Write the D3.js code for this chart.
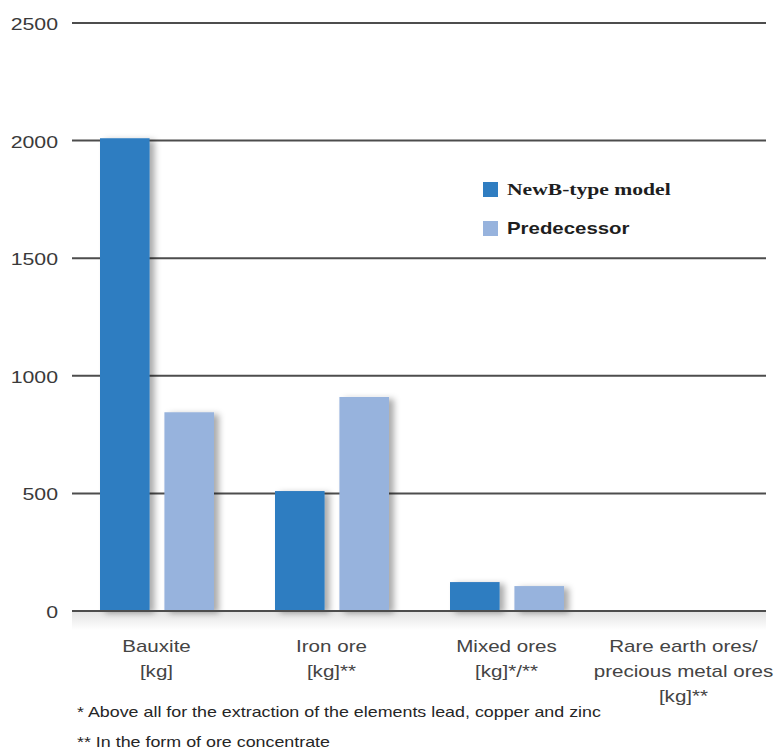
<!DOCTYPE html>
<html><head><meta charset="utf-8">
<script src="https://cdn.jsdelivr.net/npm/d3@7"></script>
<style>body{margin:0;background:#fff}svg{display:block}</style>
</head><body>
<svg id="c" width="779" height="753"></svg>
<script>
const categories = [["Bauxite","[kg]"],["Iron ore","[kg]**"],["Mixed ores","[kg]*/**"],["Rare earth ores/","precious metal ores","[kg]**"]];
const seriesNames = ["NewB-type model","Predecessor"];
const newModel = [2010, 510, 123, 0];
const predecessor = [845, 910, 106, 0];
const yTicks = [0, 500, 1000, 1500, 2000, 2500];
const footnotes = ["* Above all for the extraction of the elements lead, copper and zinc","** In the form of ore concentrate"];
const colors = ["#2f7dc1", "#97b3dd"];

const svg = d3.select("#c");
const defs = svg.append("defs");
const f = defs.append("filter").attr("id","sh").attr("x","-20%").attr("y","-10%").attr("width","160%").attr("height","130%");
f.append("feDropShadow").attr("dx",5).attr("dy",2).attr("stdDeviation",3).attr("flood-color","#000").attr("flood-opacity",0.33);
const g1 = defs.append("linearGradient").attr("id","bg").attr("x1",0).attr("y1",0).attr("x2",0).attr("y2",1);
g1.append("stop").attr("offset",0).attr("stop-color","#e4e4e4");
g1.append("stop").attr("offset",1).attr("stop-color","#fff");

// horizontally stretch text to mimic the wide rendering of the original
function stretch(sel, k) {
  sel.each(function() {
    const w = this.getComputedTextLength();
    if (w > 0) d3.select(this).attr("textLength", w * k).attr("lengthAdjust", "spacingAndGlyphs");
  });
}

const x0 = d3.scaleBand().domain(d3.range(categories.length)).range([69, 769]);
const x1 = d3.scaleBand().domain([0,1]).range([31, 145]).paddingInner(0.23);
const y = d3.scaleLinear().domain([0, 2500]).range([611, 23]);
const cx = i => x0(i) + x0.bandwidth()/2;

// baseline glow
svg.append("rect").attr("x",72).attr("y",y(0)+1).attr("width",694).attr("height",18).attr("fill","url(#bg)");

// gridlines
svg.append("g").selectAll("line").data(yTicks).join("line")
  .attr("x1",72).attr("x2",766).attr("y1",d=>y(d)).attr("y2",d=>y(d))
  .attr("stroke","#4d4d4d").attr("stroke-width",2);
const tl = svg.append("g").selectAll("text").data(yTicks).join("text")
  .attr("x",58).attr("y",d=>y(d)+7).attr("text-anchor","end")
  .attr("font-family","'Liberation Sans', Arial, sans-serif").attr("font-size",16).attr("fill","#3a3a3a")
  .text(d=>d);
stretch(tl, 1.33);

// bars
const data = [newModel, predecessor];
const bars = svg.append("g").attr("filter","url(#sh)");
data.forEach((s, si) => {
  bars.selectAll(null).data(s).join("rect")
    .attr("x",(d,i)=>x0(i)+x1(si)).attr("width",x1.bandwidth())
    .attr("y",d=>y(d)).attr("height",d=>y(0)-y(d))
    .attr("fill",colors[si]);
});
svg.append("line").attr("x1",72).attr("x2",766).attr("y1",y(0)).attr("y2",y(0)).attr("stroke","#4d4d4d").attr("stroke-width",2);

// category labels
const cl = svg.append("g").attr("font-family","'Liberation Sans', Arial, sans-serif").attr("font-size",17).attr("fill","#444").attr("text-anchor","middle");
categories.forEach((lines, i) => {
  lines.forEach((l, li) => {
    const t = cl.append("text").attr("x", cx(i) + (i===3 ? 2 : 0)).attr("y", 652 + li*25).text(l);
    stretch(t, 1.21);
  });
});

// footnotes
const fn = svg.append("g").attr("font-family","'Liberation Sans', Arial, sans-serif").attr("font-size",15).attr("fill","#262626")
  .selectAll("text").data(footnotes).join("text").attr("x",77).attr("y",(d,i)=>717+i*30).text(d=>d);
stretch(fn, 1.19);

// legend
const lg = svg.append("g");
seriesNames.forEach((n,i)=>{
  lg.append("rect").attr("x",483).attr("y",182+i*39).attr("width",15).attr("height",15).attr("fill",colors[i]);
  const t = lg.append("text").attr("x",507).attr("y",195+i*39)
    .attr("font-family", i===0 ? "'Liberation Serif', serif" : "'Liberation Sans', Arial, sans-serif")
    .attr("font-weight","bold").attr("font-size", 17).attr("fill","#1e1e1e").text(n);
  stretch(t, i===0 ? 1.27 : 1.2);
});
</script>
</body></html>
